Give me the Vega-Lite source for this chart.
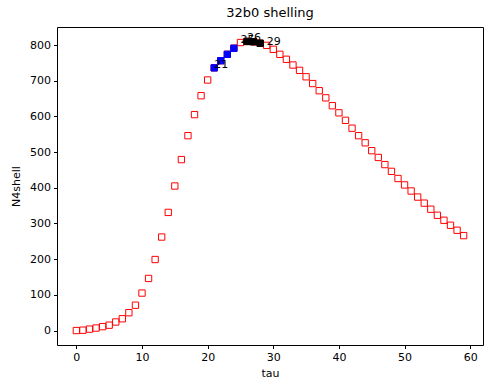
{
  "$schema": "https://vega.github.io/schema/vega-lite/v6.json",
  "autosize": "none",
  "padding": {"left": 57, "top": 27, "right": 1, "bottom": 35},
  "width": 426,
  "height": 318,
  "title": {"text": "32b0 shelling", "font": "DejaVu Sans", "fontSize": 13, "fontWeight": "normal", "color": "#000000", "offset": 7},
  "config": {
    "view": {"stroke": "#000000", "strokeWidth": 1},
    "axis": {"labelFont": "DejaVu Sans", "titleFont": "DejaVu Sans", "labelFontSize": 11, "titleFontSize": 11, "titleFontWeight": "normal", "labelColor": "#000000", "titleColor": "#000000", "tickColor": "#000000", "tickSize": 3.5, "grid": false, "domain": false}
  },
  "data": {"values": [
    {"tau": 0, "N4shell": 0, "hl": "", "label": ""},
    {"tau": 1, "N4shell": 1, "hl": "", "label": ""},
    {"tau": 2, "N4shell": 4, "hl": "", "label": ""},
    {"tau": 3, "N4shell": 7, "hl": "", "label": ""},
    {"tau": 4, "N4shell": 11, "hl": "", "label": ""},
    {"tau": 5, "N4shell": 15, "hl": "", "label": ""},
    {"tau": 6, "N4shell": 24, "hl": "", "label": ""},
    {"tau": 7, "N4shell": 33, "hl": "", "label": ""},
    {"tau": 8, "N4shell": 50, "hl": "", "label": ""},
    {"tau": 9, "N4shell": 71, "hl": "", "label": ""},
    {"tau": 10, "N4shell": 105, "hl": "", "label": ""},
    {"tau": 11, "N4shell": 146, "hl": "", "label": ""},
    {"tau": 12, "N4shell": 199, "hl": "", "label": ""},
    {"tau": 13, "N4shell": 262, "hl": "", "label": ""},
    {"tau": 14, "N4shell": 331, "hl": "", "label": ""},
    {"tau": 15, "N4shell": 405, "hl": "", "label": ""},
    {"tau": 16, "N4shell": 479, "hl": "", "label": ""},
    {"tau": 17, "N4shell": 546, "hl": "", "label": ""},
    {"tau": 18, "N4shell": 605, "hl": "", "label": ""},
    {"tau": 19, "N4shell": 658, "hl": "", "label": ""},
    {"tau": 20, "N4shell": 702, "hl": "", "label": ""},
    {"tau": 21, "N4shell": 736, "hl": "blue", "label": "21"},
    {"tau": 22, "N4shell": 756, "hl": "blue", "label": ""},
    {"tau": 23, "N4shell": 774, "hl": "blue", "label": ""},
    {"tau": 24, "N4shell": 791, "hl": "blue", "label": ""},
    {"tau": 25, "N4shell": 807, "hl": "", "label": "25"},
    {"tau": 26, "N4shell": 810, "hl": "black", "label": "26"},
    {"tau": 27, "N4shell": 809, "hl": "black", "label": ""},
    {"tau": 28, "N4shell": 805, "hl": "black", "label": ""},
    {"tau": 29, "N4shell": 799, "hl": "", "label": "29"},
    {"tau": 30, "N4shell": 788, "hl": "", "label": ""},
    {"tau": 31, "N4shell": 774, "hl": "", "label": ""},
    {"tau": 32, "N4shell": 760, "hl": "", "label": ""},
    {"tau": 33, "N4shell": 744, "hl": "", "label": ""},
    {"tau": 34, "N4shell": 729, "hl": "", "label": ""},
    {"tau": 35, "N4shell": 711, "hl": "", "label": ""},
    {"tau": 36, "N4shell": 692, "hl": "", "label": ""},
    {"tau": 37, "N4shell": 672, "hl": "", "label": ""},
    {"tau": 38, "N4shell": 652, "hl": "", "label": ""},
    {"tau": 39, "N4shell": 630, "hl": "", "label": ""},
    {"tau": 40, "N4shell": 610, "hl": "", "label": ""},
    {"tau": 41, "N4shell": 589, "hl": "", "label": ""},
    {"tau": 42, "N4shell": 567, "hl": "", "label": ""},
    {"tau": 43, "N4shell": 546, "hl": "", "label": ""},
    {"tau": 44, "N4shell": 526, "hl": "", "label": ""},
    {"tau": 45, "N4shell": 504, "hl": "", "label": ""},
    {"tau": 46, "N4shell": 485, "hl": "", "label": ""},
    {"tau": 47, "N4shell": 465, "hl": "", "label": ""},
    {"tau": 48, "N4shell": 446, "hl": "", "label": ""},
    {"tau": 49, "N4shell": 426, "hl": "", "label": ""},
    {"tau": 50, "N4shell": 408, "hl": "", "label": ""},
    {"tau": 51, "N4shell": 391, "hl": "", "label": ""},
    {"tau": 52, "N4shell": 374, "hl": "", "label": ""},
    {"tau": 53, "N4shell": 357, "hl": "", "label": ""},
    {"tau": 54, "N4shell": 340, "hl": "", "label": ""},
    {"tau": 55, "N4shell": 323, "hl": "", "label": ""},
    {"tau": 56, "N4shell": 309, "hl": "", "label": ""},
    {"tau": 57, "N4shell": 295, "hl": "", "label": ""},
    {"tau": 58, "N4shell": 281, "hl": "", "label": ""},
    {"tau": 59, "N4shell": 266, "hl": "", "label": ""}
  ]},
  "encoding": {
    "x": {"field": "tau", "type": "quantitative", "scale": {"domain": [-2.95, 61.95], "nice": false, "zero": false}, "axis": {"values": [0, 10, 20, 30, 40, 50, 60], "title": "tau", "titlePadding": 5, "labelPadding": 3}},
    "y": {"field": "N4shell", "type": "quantitative", "scale": {"domain": [-40.5, 850.5], "nice": false, "zero": false}, "axis": {"values": [0, 100, 200, 300, 400, 500, 600, 700, 800], "title": "N4shell", "titlePadding": 8, "labelPadding": 3}}
  },
  "layer": [
    {"mark": {"type": "point", "shape": "square", "size": 40, "filled": false, "stroke": "#ff0000", "strokeWidth": 1, "opacity": 1}},
    {"transform": [{"filter": "datum.hl == 'blue'"}], "mark": {"type": "point", "shape": "square", "size": 40, "filled": true, "fill": "#0000ff", "stroke": "#0000ff", "strokeWidth": 1, "opacity": 1}},
    {"transform": [{"filter": "datum.hl == 'black'"}], "mark": {"type": "point", "shape": "square", "size": 40, "filled": true, "fill": "#000000", "stroke": "#000000", "strokeWidth": 1, "opacity": 1}},
    {"transform": [{"filter": "datum.label != ''"}], "mark": {"type": "text", "align": "left", "baseline": "alphabetic", "font": "DejaVu Sans", "fontSize": 11, "color": "#000000"}, "encoding": {"text": {"field": "label"}}}
  ]
}
